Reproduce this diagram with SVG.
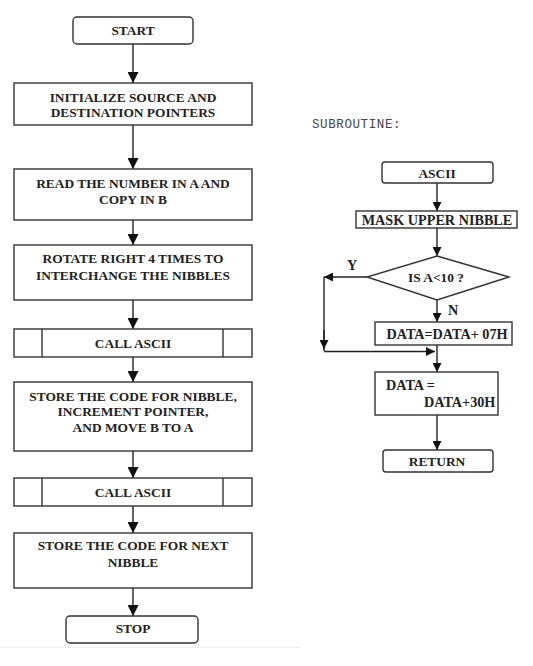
<svg xmlns="http://www.w3.org/2000/svg" width="533" height="666" viewBox="0 0 533 666">
<defs>
<style>
.b{fill:#fff;stroke:#333;stroke-width:1.4}
.t{font-family:"Liberation Serif","Times New Roman",serif;font-weight:bold;font-size:13.4px;fill:#222;text-anchor:middle}
.r{font-size:14.2px}
.l{text-anchor:start}
.c{stroke:#222;stroke-width:1.4;fill:none}
.m{font-family:"Liberation Mono","Courier New",monospace;font-size:12.5px;letter-spacing:0.6px;fill:#444}
</style>
<marker id="a" viewBox="0 0 10 10" refX="10" refY="5" markerWidth="11" markerHeight="11" markerUnits="userSpaceOnUse" orient="auto"><path d="M0,0L10,5L0,10Z" fill="#111"/></marker>
<marker id="s" viewBox="0 0 10 10" refX="10" refY="5" markerWidth="9" markerHeight="9" markerUnits="userSpaceOnUse" orient="auto"><path d="M0,0L10,5L0,10Z" fill="#111"/></marker>
</defs>
<rect width="533" height="666" fill="#fff"/>
<line x1="0" y1="647.5" x2="300" y2="647.5" stroke="#eee" stroke-width="1"/>
<g id="connectors">
<line class="c" x1="133" y1="44" x2="133" y2="83" marker-end="url(#a)"/>
<line class="c" x1="133" y1="125" x2="133" y2="169" marker-end="url(#a)"/>
<line class="c" x1="133" y1="220" x2="133" y2="245" marker-end="url(#a)"/>
<line class="c" x1="133" y1="300" x2="133" y2="329" marker-end="url(#a)"/>
<line class="c" x1="133" y1="357" x2="133" y2="382" marker-end="url(#a)"/>
<line class="c" x1="133" y1="451" x2="133" y2="478" marker-end="url(#a)"/>
<line class="c" x1="133" y1="506" x2="133" y2="533" marker-end="url(#a)"/>
<line class="c" x1="133" y1="588" x2="133" y2="616" marker-end="url(#a)"/>
<line class="c" x1="437" y1="183" x2="437" y2="211" marker-end="url(#s)"/>
<line class="c" x1="437" y1="228" x2="437" y2="256" marker-end="url(#s)"/>
<line class="c" x1="437" y1="300" x2="437" y2="322" marker-end="url(#s)"/>
<line class="c" x1="367" y1="277" x2="324" y2="277" marker-end="url(#s)"/>
<polyline class="c" points="324,277 324,351"/>
<line class="c" x1="324" y1="330" x2="324" y2="349" marker-end="url(#s)"/>
<line class="c" x1="324" y1="351.5" x2="435" y2="351.5" marker-end="url(#s)"/>
<line class="c" x1="437" y1="345" x2="437" y2="372" marker-end="url(#s)"/>
<line class="c" x1="437" y1="415" x2="437" y2="450" marker-end="url(#s)"/>
<text class="t r" x="352" y="270">Y</text>
<text class="t r" x="453" y="315">N</text>
</g>
<g id="start"><rect class="b" x="73" y="17" width="120" height="27" rx="4"/><text class="t" x="133" y="35">START</text></g>
<g id="init"><rect class="b" x="14" y="83" width="238" height="42"/><text class="t" x="133" y="102">INITIALIZE SOURCE AND</text><text class="t" x="133" y="117">DESTINATION POINTERS</text></g>
<g id="read"><rect class="b" x="14" y="169" width="238" height="51"/><text class="t" x="133" y="188">READ THE NUMBER IN A AND</text><text class="t" x="133" y="204">COPY IN B</text></g>
<g id="rotate"><rect class="b" x="14" y="245" width="238" height="55"/><text class="t" x="133" y="263">ROTATE RIGHT 4 TIMES TO</text><text class="t" x="133" y="280">INTERCHANGE THE NIBBLES</text></g>
<g id="call1"><rect class="b" x="14" y="329" width="238" height="28"/><line class="b" x1="42" y1="329" x2="42" y2="357"/><line class="b" x1="223" y1="329" x2="223" y2="357"/><text class="t" x="133" y="348">CALL ASCII</text></g>
<g id="store1"><rect class="b" x="14" y="382" width="238" height="69"/><text class="t" x="133" y="401">STORE THE CODE FOR NIBBLE,</text><text class="t" x="133" y="416">INCREMENT POINTER,</text><text class="t" x="133" y="432">AND MOVE B TO A</text></g>
<g id="call2"><rect class="b" x="14" y="478" width="238" height="28"/><line class="b" x1="42" y1="478" x2="42" y2="506"/><line class="b" x1="223" y1="478" x2="223" y2="506"/><text class="t" x="133" y="497">CALL ASCII</text></g>
<g id="store2"><rect class="b" x="14" y="533" width="238" height="55"/><text class="t" x="133" y="550">STORE THE CODE FOR NEXT</text><text class="t" x="133" y="567">NIBBLE</text></g>
<g id="stop"><rect class="b" x="66" y="616" width="132" height="27" rx="4"/><text class="t" x="133" y="633">STOP</text></g>
<text class="m" x="312" y="128">SUBROUTINE:</text>
<g id="ascii"><rect class="b" x="382" y="162" width="111" height="21" rx="3"/><text class="t" x="437" y="178">ASCII</text></g>
<g id="mask"><rect class="b" x="356" y="211" width="161" height="17"/><text class="t r" x="437" y="225">MASK UPPER NIBBLE</text></g>
<g id="decision"><polygon class="b" points="437,256 509,277 437,300 367,277"/><text class="t" x="436" y="282">IS A&lt;10 ?</text></g>
<g id="add07"><rect class="b" x="375" y="322" width="137" height="23"/><text class="t r" x="447" y="339">DATA=DATA+ 07H</text></g>
<g id="add30"><rect class="b" x="375" y="372" width="123" height="43"/><text class="t r l" x="386" y="390">DATA =</text><text class="t r l" x="424" y="407">DATA+30H</text></g>
<g id="return"><rect class="b" x="383" y="450" width="110" height="22" rx="3"/><text class="t" x="437" y="466">RETURN</text></g>
</svg>
